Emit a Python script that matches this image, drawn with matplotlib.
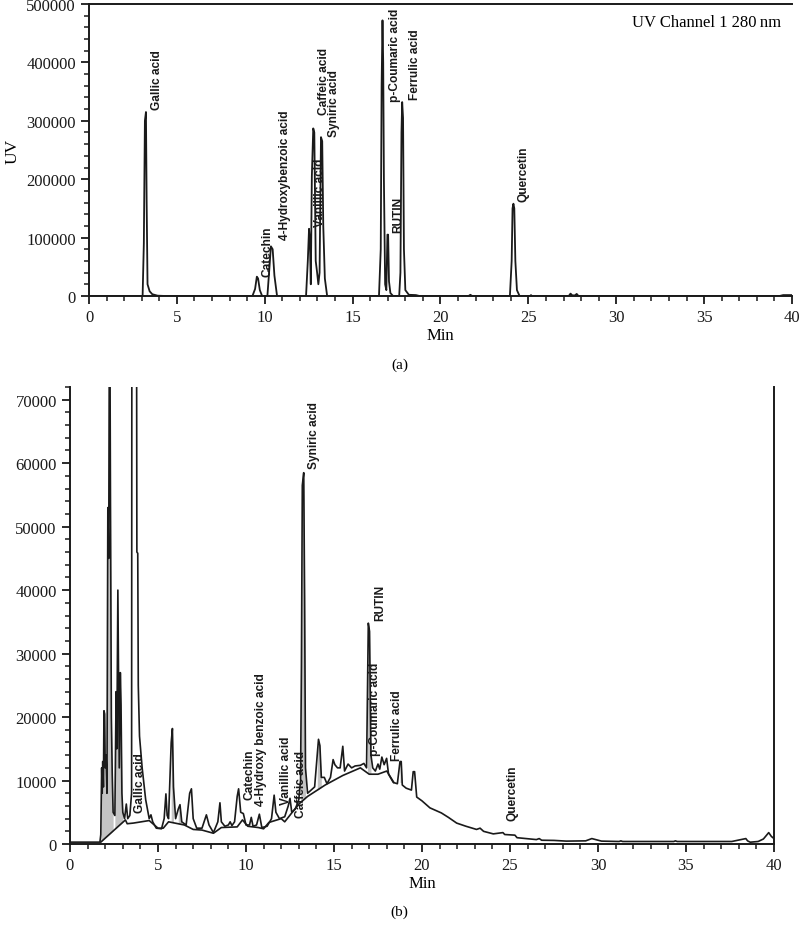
import numpy as np
import matplotlib
matplotlib.use('Agg')
import matplotlib.pyplot as plt
import matplotlib.ticker as ticker

# panel (a): standard mix, UV 280 nm
rt_a = [0, 3.05, 3.12, 3.18, 3.24, 3.28, 3.33, 3.45, 3.6, 3.9, 4.3,
        9.3, 9.45, 9.55, 9.62, 9.72, 9.85,
        10.15, 10.27, 10.35, 10.45, 10.55, 10.7,
        12.35, 12.45, 12.52, 12.57, 12.62, 12.68, 12.76, 12.82, 12.9, 12.98, 13.05, 13.12, 13.2, 13.27, 13.33, 13.42, 13.55,
        16.5, 16.6, 16.65, 16.7, 16.74, 16.78, 16.85, 16.92, 16.98, 17.02, 17.07, 17.15, 17.3,
        17.65, 17.72, 17.78, 17.82, 17.87, 17.92, 18.0, 18.2, 18.6, 18.8,
        21.6, 21.7, 21.8,
        23.95, 24.05, 24.1, 24.15, 24.2, 24.26, 24.35, 24.5,
        25.1, 25.15, 25.2,
        27.3, 27.4, 27.5, 27.65, 27.75, 27.85,
        39.3, 39.5, 40]
uv_a = [0, 0, 90000, 300000, 315000, 160000, 20000, 8000, 3000, 500, 0,
        0, 12000, 33000, 30000, 10000, 0,
        0, 50000, 85000, 80000, 35000, 0,
        0, 60000, 115000, 95000, 20000, 205000, 287000, 280000, 60000, 40000, 20000, 40000, 272000, 265000, 120000, 30000, 0,
        0, 80000, 360000, 472000, 400000, 200000, 20000, 10000, 105000, 105000, 25000, 5000, 0,
        0, 40000, 280000, 332000, 305000, 80000, 10000, 2000, 1500, 0,
        0, 2000, 0,
        0, 60000, 150000, 158000, 150000, 60000, 10000, 0,
        0, 1500, 0,
        0, 4000, 1000, 1000, 3500, 0,
        0, 1500, 1500]

lab_a = ['Gallic acid', 'Catechin', '4-Hydroxybenzoic acid', 'Vanillic acid', 'Caffeic acid',
         'Syniric acid', 'p-Coumaric acid', 'RUTIN', 'Ferrulic acid', 'Quercetin']
lab_a_t = [3.87, 10.18, 11.15, 13.15, 13.35, 13.95, 17.4, 17.6, 18.55, 24.75]
lab_a_v = [320000, 34000, 97000, 120000, 312000, 274000, 334000, 110000, 337000, 163000]

# panel (b): sample extract
rt_b = [0, 1.7, 1.75, 1.8, 1.83, 1.86, 1.9, 1.93, 1.97, 2.0, 2.05, 2.1, 2.15, 2.2, 2.25, 2.3, 2.35, 2.4, 2.45,
        2.55, 2.62, 2.66, 2.72, 2.76, 2.8, 2.86, 2.9, 2.95, 3.0, 3.1, 3.2, 3.28, 3.4, 3.5, 3.53, 3.75,
        3.8, 3.85, 3.88, 3.95, 4.1, 4.3, 4.5, 4.6, 4.7, 4.9, 5.2, 5.35, 5.45, 5.52, 5.6, 5.75, 5.82, 5.88,
        6.0, 6.15, 6.25, 6.35, 6.6, 6.8, 6.9, 7.0, 7.2, 7.5, 7.75, 7.9, 8.15, 8.4, 8.52, 8.6, 8.8, 9.0,
        9.1, 9.2, 9.35, 9.5, 9.58, 9.7, 9.85, 10.0, 10.2, 10.3, 10.4, 10.6, 10.76, 10.9, 11.2, 11.45,
        11.6, 11.7, 11.9, 12.2, 12.4, 12.5, 12.6, 12.8, 13.0, 13.1, 13.15, 13.2, 13.28, 13.33, 13.38,
        13.5, 13.7, 13.9, 14.05, 14.12, 14.2, 14.28, 14.45, 14.6, 14.8, 14.95, 15.05, 15.2, 15.35, 15.5,
        15.6, 15.8, 16.0, 16.2, 16.5, 16.7, 16.85, 16.9, 16.95, 17.02, 17.1, 17.2, 17.35, 17.5, 17.6,
        17.72, 17.85, 17.99, 18.1, 18.37, 18.6, 18.75, 18.82, 18.88, 19.1, 19.4, 19.5, 19.58, 19.7,
        20.0, 20.45, 21.1, 21.5, 21.97, 22.5, 23.1, 23.3, 23.5, 24.05, 24.6, 24.7, 25.28, 25.4, 25.9,
        26.5, 26.66, 26.8, 27.5, 28.2, 29.3, 29.65, 30.0, 30.2, 31.2, 31.3, 31.4, 34.3, 34.4, 34.5,
        37.6, 38.4, 38.5, 38.65, 39.1, 39.4, 39.7, 39.85, 40]
uv_b = [300, 300, 1500, 12000, 8000, 13000, 9000, 21000, 20500, 12000, 14000, 8000, 53000, 45000, 95000, 54000, 20000, 11000, 5000,
        4500, 24000, 15000, 40000, 26500, 12000, 27000, 22000, 8000, 5000, 4000, 6300, 4000, 4500, 8000, 150000, 150000,
        46000, 45800, 25000, 17000, 12000, 7000, 4000, 4600, 3500, 2500, 2400, 4000, 7900, 4500, 4000, 16000, 18200, 9000,
        4000, 5500, 6200, 3500, 3000, 8000, 8700, 4000, 2500, 2500, 4600, 3000, 1800, 3500, 6500, 3500, 2800, 3000,
        3500, 2900, 3500, 7500, 8700, 5000, 4800, 3000, 3000, 4200, 2800, 3000, 4700, 2600, 2800, 4000,
        7700, 5000, 4000, 4300, 6000, 7200, 5000, 5500, 7000, 10000, 28000, 56500, 58500, 39000, 12000,
        8000, 8500, 9000, 14000, 16500, 15500, 10500, 10500, 9500, 10500, 13300, 12500, 12000, 12000, 15400,
        11500, 12600, 12000, 12300, 12400, 12700, 12000, 23200, 34800, 33500, 14000, 12000, 11500, 12600, 11800,
        13700, 12500, 13500, 11000, 9700, 9500, 13000, 13000, 9300, 8800, 8500, 11400, 11400, 7400,
        6800, 5700, 4900, 4200, 3300, 2800, 2300, 2500, 2000, 1600, 1800, 1500, 1400, 1000, 860,
        700, 860, 600, 570, 460, 500, 860, 600, 460, 400, 500, 400, 400, 500, 400,
        400, 860, 500, 290, 400, 800, 1800, 1200, 860]

base_t = [1.75, 3.15, 3.25, 3.6, 4.5, 5.0, 5.3, 5.6, 6.5, 7.0, 7.5, 8.15, 8.6, 9.5, 9.8, 10.1, 10.7,
          11.0, 11.3, 12.0, 12.2, 13.0, 13.5, 14.5, 15.5, 16.5, 17.0, 17.5, 18.0, 18.4]
base_v = [300, 3800, 3200, 3300, 3700, 2500, 2500, 3500, 3000, 2300, 2200, 1700, 2600, 2700, 3800, 2800, 2600,
          2400, 3400, 4000, 3500, 6300, 7500, 9300, 10800, 12000, 11000, 11000, 11500, 9700]

lab_b = ['Gallic acid', 'Catechin', '4-Hydroxy benzoic acid', 'Vanillic acid', 'Caffeic acid',
         'Syniric acid', 'RUTIN', 'p-Coumaric acid', 'Ferrulic acid', 'Quercetin']
lab_b_t = [3.98, 10.2, 10.85, 12.3, 13.1, 13.86, 17.6, 17.35, 18.6, 25.15]
lab_b_v = [5000, 7100, 6100, 6300, 4300, 59300, 35300, 14000, 13200, 3800]

shade_windows = [(1.75, 2.45), (2.55, 3.05), (5.7, 5.95), (6.1, 6.4), (13.1, 13.42),
                 (14.02, 14.3), (16.86, 17.12), (18.7, 18.88)]

serif = ['Liberation Serif', 'DejaVu Serif']
sans = ['Liberation Sans Narrow', 'Liberation Sans', 'DejaVu Sans']
plt.rcParams['font.family'] = serif
ink = '#1a1a1a'

fig = plt.figure(figsize=(7.99, 9.28), dpi=100)
ax1 = fig.add_axes([0.1114, 0.6800, 0.8798, 0.3146])
ax2 = fig.add_axes([0.0876, 0.0894, 0.8811, 0.4925])

# (a)
ax1.plot(rt_a, uv_a, color=ink, lw=1.3)
for name, t, v in zip(lab_a, lab_a_t, lab_a_v):
    ax1.text(t, v, name, rotation=90, ha='center', va='bottom', fontsize=8.6,
             fontweight='bold', family=sans, color=ink)
ax1.set_xlim(0, 40)
ax1.set_ylim(0, 500000)
ax1.yaxis.set_major_locator(ticker.MultipleLocator(100000))
ax1.yaxis.set_minor_locator(ticker.MultipleLocator(20000))
ax1.spines['right'].set_visible(False)
ax1.set_ylabel('UV', fontsize=12.5, labelpad=4)
ax1.text(0.985, 0.965, 'UV Channel 1 280\u2009nm', transform=ax1.transAxes,
         ha='right', va='top', fontsize=12)
ax1.set_xlabel('Min', fontsize=12, labelpad=1)

# (b)
ax2.plot(rt_b, uv_b, color=ink, lw=1.2)
ax2.plot(base_t, base_v, color=ink, lw=1.2)
t_arr = np.array(rt_b)
u_arr = np.array(uv_b)
b_arr = np.interp(t_arr, base_t, base_v)
for lo, hi in shade_windows:
    m = (t_arr >= lo) & (t_arr <= hi)
    ax2.fill_between(t_arr[m], b_arr[m], u_arr[m], color='#c4c4c4', lw=0)
for name, t, v in zip(lab_b, lab_b_t, lab_b_v):
    ax2.text(t, v, name, rotation=90, ha='center', va='bottom', fontsize=8.6,
             fontweight='bold', family=sans, color=ink)
ax2.set_xlim(0, 40)
ax2.set_ylim(0, 72000)
ax2.yaxis.set_major_locator(ticker.MultipleLocator(10000))
ax2.yaxis.set_minor_locator(ticker.MultipleLocator(2000))
ax2.spines['top'].set_visible(False)
ax2.set_xlabel('Min', fontsize=12, labelpad=1)

for ax in (ax1, ax2):
    ax.xaxis.set_major_locator(ticker.MultipleLocator(5))
    ax.xaxis.set_minor_locator(ticker.MultipleLocator(1))
    ax.tick_params(which='major', direction='out', length=6, width=1.3, labelsize=12, colors=ink)
    ax.tick_params(which='minor', direction='out', length=3.5, width=1.1, colors=ink)
    for s in ax.spines.values():
        s.set_linewidth(1.4)
        s.set_color(ink)

fig.text(0.5, 1 - 365 / 928, '(a)', ha='center', va='center', fontsize=11)
fig.text(0.5, 1 - 912 / 928, '(b)', ha='center', va='center', fontsize=11)

fig.savefig('out.png', dpi=100)
